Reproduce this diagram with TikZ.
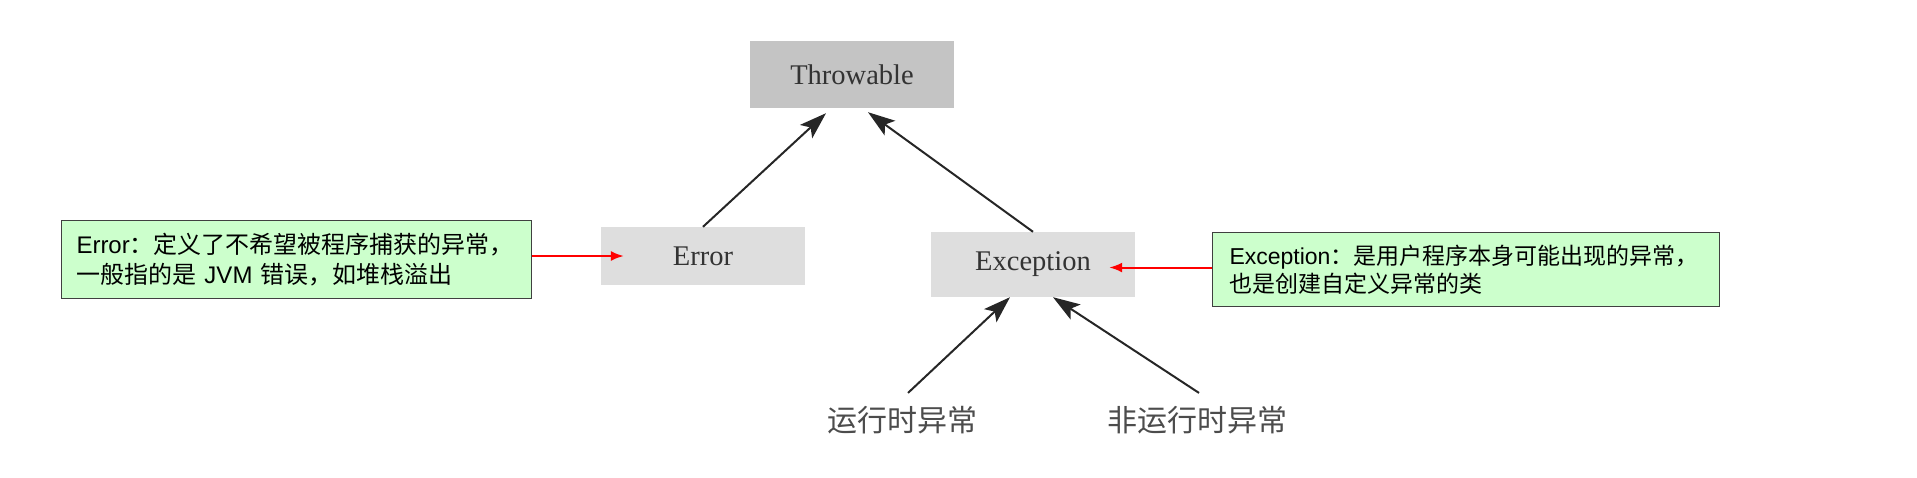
\documentclass[tikz,border=0pt]{standalone}
\usepackage{fontspec}
\setmainfont{Liberation Serif}
\newfontfamily\cjk{Noto Sans CJK SC}
\newfontfamily\arial{Liberation Sans}
\usetikzlibrary{calc, arrows.meta}

\begin{document}
\begin{tikzpicture}[
            x=1pt, y=-1pt,
            class box/.style={
                minimum width=204pt, inner sep=0pt, text=black!80,
                font=\fontsize{28.5}{30}\selectfont
            },
            note box/.style={
                draw=black!75, line width=1pt, fill=green!20, anchor=north west,
                align=left, text=black
            },
            kind/.style={inner sep=0pt, text=black!70, font=\cjk\fontsize{30}{30}\selectfont},
            isa/.style={draw=black!85, line width=2pt, -{Stealth[length=27pt, width=18pt, inset=6pt]}},
            note arrow/.style={draw=red, line width=2pt, -{Latex[length=13pt, width=10pt]}}
        ]

            \useasboundingbox (0,0) rectangle (1917,477);

            \node[class box, fill=black!23, minimum height=67pt] (throwable) at (852,74.5) {Throwable};
            \node[class box, fill=black!13, minimum height=58pt] (error) at (703,256) {Error};
            \node[class box, fill=black!13, minimum height=65pt] (exception) at (1033,264.5) {Exception};

            \node[note box, minimum width=470pt, minimum height=78pt, text width=440pt, inner xsep=15pt,
                font=\cjk\fontsize{24}{30}\selectfont] (errnote) at (61,220)
                {{\arial Error}：定义了不希望被程序捕获的异常，\\一般指的是 {\arial JVM} 错误，如堆栈溢出};
            \node[note box, minimum width=507pt, minimum height=74pt, text width=473pt, inner xsep=17pt,
                font=\cjk\fontsize{23}{28}\selectfont] (excnote) at (1212,232)
                {{\arial Exception}：是用户程序本身可能出现的异常，\\也是创建自定义异常的类};

            \node[kind] (runtime) at (902,420) {运行时异常};
            \node[kind] (nonruntime) at (1197,420) {非运行时异常};

            \draw[isa] (error.north) -- ([xshift=-26pt, yshift=-5pt]throwable.south);
            \draw[isa] (exception.north) -- ([xshift=16pt, yshift=-4pt]throwable.south);
            \draw[isa] ([xshift=6pt, yshift=13pt]runtime.north) -- ([xshift=-23pt]exception.south);
            \draw[isa] ([xshift=2pt, yshift=13pt]nonruntime.north) -- ([xshift=20pt]exception.south);

            \draw[note arrow] (errnote.east |- error) -- ([xshift=23pt]error.west);
            \draw[note arrow] ([yshift=-3pt]excnote.west |- exception) -- ([xshift=-26pt, yshift=-3pt]exception.east);
        \end{tikzpicture}
\end{document}
